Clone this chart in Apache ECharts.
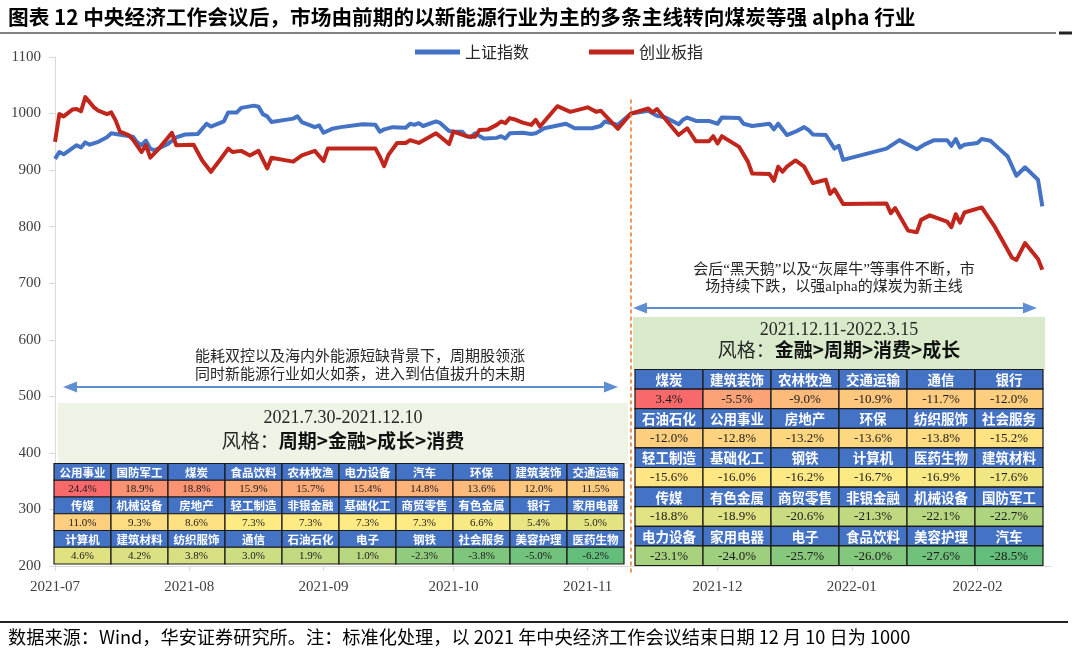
<!DOCTYPE html>
<html><head><meta charset="utf-8">
<script src="https://cdn.jsdelivr.net/npm/echarts/dist/echarts.min.js"></script>
<style>html,body{margin:0;padding:0;background:#fff}#c{width:1080px;height:652px}</style>
</head><body><div id="c"></div>
<script>
// ---------------- data ----------------
const shDates = ['2021-07-30','2021-07-31','2021-08-01','2021-08-04','2021-08-05','2021-08-06','2021-08-07','2021-08-09','2021-08-11','2021-08-12','2021-08-13','2021-08-17','2021-08-18','2021-08-19','2021-08-20','2021-08-21','2021-08-22','2021-08-25','2021-08-27','2021-08-29','2021-09-01','2021-09-03','2021-09-04','2021-09-07','2021-09-08','2021-09-10','2021-09-11','2021-09-14','2021-09-15','2021-09-16','2021-09-17','2021-09-18','2021-09-23','2021-09-24','2021-09-25','2021-09-28','2021-09-29','2021-09-30','2021-10-02','2021-10-04','2021-10-09','2021-10-12','2021-10-13','2021-10-14','2021-10-16','2021-10-19','2021-10-20','2021-10-21','2021-10-22','2021-10-23','2021-10-26','2021-10-27','2021-10-29','2021-10-30','2021-11-01','2021-11-02','2021-11-03','2021-11-04','2021-11-06','2021-11-09','2021-11-10','2021-11-11','2021-11-12','2021-11-15','2021-11-17','2021-11-18','2021-11-20','2021-11-25','2021-11-27','2021-12-01','2021-12-03','2021-12-04','2021-12-07','2021-12-10','2021-12-14','2021-12-16','2021-12-18','2021-12-21','2021-12-22','2021-12-23','2021-12-25','2021-12-28','2021-12-30','2021-12-31','2022-01-04','2022-01-05','2022-01-07','2022-01-11','2022-01-12','2022-01-13','2022-01-15','2022-01-17','2022-01-19','2022-01-20','2022-01-21','2022-01-24','2022-01-26','2022-01-27','2022-01-28','2022-02-07','2022-02-10','2022-02-14','2022-02-16','2022-02-18','2022-02-21','2022-02-22','2022-02-23','2022-02-24','2022-02-25','2022-02-28','2022-03-01','2022-03-03','2022-03-05','2022-03-07','2022-03-09','2022-03-11','2022-03-14','2022-03-15'];
const shValues = [920,932,928,944,940,949,945,950,958,965,964,959,949,944,952,938,935,946,958,963,964,982,977,986,1002,1002,1010,1014,1012,999,995,985,991,995,985,976,979,966,973,976,981,980,968,972,976,975,982,980,983,978,986,983,969,968,968,960,958,965,956,957,960,956,965,966,964,965,974,982,974,974,978,986,980,1000,1005,996,993,981,989,993,987,987,982,993,992,982,978,982,972,982,962,968,976,971,963,962,938,943,918,938,953,937,946,953,953,943,955,940,945,948,955,952,938,924,890,905,883,836];

const cybDates = ['2021-07-30','2021-07-31','2021-08-01','2021-08-03','2021-08-04','2021-08-05','2021-08-06','2021-08-08','2021-08-09','2021-08-11','2021-08-12','2021-08-13','2021-08-14','2021-08-16','2021-08-17','2021-08-19','2021-08-20','2021-08-21','2021-08-23','2021-08-26','2021-08-27','2021-08-31','2021-09-02','2021-09-04','2021-09-06','2021-09-08','2021-09-09','2021-09-11','2021-09-13','2021-09-15','2021-09-17','2021-09-18','2021-09-23','2021-09-25','2021-09-28','2021-09-30','2021-10-01','2021-10-12','2021-10-13','2021-10-14','2021-10-15','2021-10-17','2021-10-19','2021-10-20','2021-10-22','2021-10-26','2021-10-27','2021-10-29','2021-10-30','2021-11-02','2021-11-04','2021-11-05','2021-11-07','2021-11-09','2021-11-10','2021-11-11','2021-11-12','2021-11-13','2021-11-15','2021-11-17','2021-11-18','2021-11-19','2021-11-23','2021-11-26','2021-11-30','2021-12-02','2021-12-03','2021-12-07','2021-12-10','2021-12-14','2021-12-15','2021-12-16','2021-12-21','2021-12-23','2021-12-25','2021-12-28','2021-12-29','2021-12-30','2021-12-31','2022-01-04','2022-01-06','2022-01-07','2022-01-11','2022-01-12','2022-01-13','2022-01-14','2022-01-15','2022-01-17','2022-01-19','2022-01-21','2022-01-24','2022-01-25','2022-01-26','2022-01-28','2022-02-07','2022-02-08','2022-02-09','2022-02-12','2022-02-14','2022-02-15','2022-02-17','2022-02-21','2022-02-22','2022-02-23','2022-02-24','2022-02-25','2022-03-01','2022-03-04','2022-03-08','2022-03-09','2022-03-11','2022-03-14','2022-03-15'];
const cybValues = [950,999,995,1007,1008,1004,1029,1011,1005,999,1002,988,968,962,954,932,944,922,938,966,944,945,917,897,917,938,932,934,926,934,903,922,915,926,934,916,938,938,924,907,927,948,948,953,948,965,959,946,968,960,959,971,972,980,986,983,992,990,984,980,989,977,1013,1003,1011,1003,1005,973,1000,1009,1002,1008,962,974,951,951,960,947,960,941,915,894,893,881,906,897,906,917,906,877,883,858,866,840,841,824,833,793,790,812,820,809,799,822,807,825,834,800,745,741,771,743,724];

const seriesNames = ['上证指数', '创业板指'];
const tickDates = ['2021-07-30','2021-08-30','2021-09-30','2021-10-30','2021-11-30','2021-12-30','2022-01-30','2022-02-28'];
const axisStart = '2021-07-30', axisEnd = '2022-03-17';
const meetingDate = '2021-12-10';

const leftIndustries = ['公用事业','国防军工','煤炭','食品饮料','农林牧渔','电力设备','汽车','环保','建筑装饰','交通运输','传媒','机械设备','房地产','轻工制造','非银金融','基础化工','商贸零售','有色金属','银行','家用电器','计算机','建筑材料','纺织服饰','通信','石油石化','电子','钢铁','社会服务','美容护理','医药生物'];
const leftReturns = [24.4,18.9,18.8,15.9,15.7,15.4,14.8,13.6,12.0,11.5,11.0,9.3,8.6,7.3,7.3,7.3,7.3,6.6,5.4,5.0,4.6,4.2,3.8,3.0,1.9,1.0,-2.3,-3.8,-5.0,-6.2];
const rightIndustries = ['煤炭','建筑装饰','农林牧渔','交通运输','通信','银行','石油石化','公用事业','房地产','环保','纺织服饰','社会服务','轻工制造','基础化工','钢铁','计算机','医药生物','建筑材料','传媒','有色金属','商贸零售','非银金融','机械设备','国防军工','电力设备','家用电器','电子','食品饮料','美容护理','汽车'];
const rightReturns = [3.4,-5.5,-9.0,-10.9,-11.7,-12.0,-12.0,-12.8,-13.2,-13.6,-13.8,-15.2,-15.6,-16.0,-16.2,-16.7,-16.9,-17.6,-18.8,-18.9,-20.6,-21.3,-22.1,-22.7,-23.1,-24.0,-25.7,-26.0,-27.6,-28.5];

const titleText = '图表 12 中央经济工作会议后，市场由前期的以新能源行业为主的多条主线转向煤炭等强 alpha 行业';
const footText = '数据来源：Wind，华安证券研究所。注：标准化处理，以 2021 年中央经济工作会议结束日期 12 月 10 日为 1000';
const leftNote = ['能耗双控以及海内外能源短缺背景下，周期股领涨', '同时新能源行业如火如荼，进入到估值拔升的末期'];
const rightNote = ['会后“黑天鹅”以及“灰犀牛”等事件不断，市', '场持续下跌，以强alpha的煤炭为新主线'];
const leftPeriod = '2021.7.30-2021.12.10', leftStyle = '周期>金融>成长>消费';
const rightPeriod = '2021.12.11-2022.3.15', rightStyle = '金融>周期>消费>成长';

// ---------------- build ----------------
const SANS = "'Noto Sans CJK SC', sans-serif";
const SERIF = "'Liberation Serif', 'Noto Sans CJK SC', serif";
function fmt(t){const d=new Date(t);return d.getUTCFullYear()+'-'+String(d.getUTCMonth()+1).padStart(2,'0')+'-'+String(d.getUTCDate()).padStart(2,'0');}
const cats=[];
for(let t=Date.parse(axisStart+'T00:00:00Z'); t<=Date.parse(axisEnd+'T00:00:00Z'); t+=86400000) cats.push(fmt(t));
const idx={}; cats.forEach((c,i)=>idx[c]=i);
function align(dates, vals){const a=cats.map(()=>null); dates.forEach((d,i)=>{a[idx[d]]=vals[i];}); return a;}

function hex(c){return [parseInt(c.substr(1,2),16),parseInt(c.substr(3,2),16),parseInt(c.substr(5,2),16)];}
function mix(a,b,t){const A=hex(a),B=hex(b);return 'rgb('+A.map((v,i)=>Math.round(v+(B[i]-v)*t)).join(',')+')';}
function scaleColor(v, arr){
  const s=[...arr].sort((a,b)=>a-b); const n=s.length;
  const mid = n%2 ? s[(n-1)/2] : (s[n/2-1]+s[n/2])/2;
  const mn=s[0], mx=s[n-1];
  if(v>=mid) return mix('#FFEB84','#F8696B', mx===mid?0:(v-mid)/(mx-mid));
  return mix('#FFEB84','#63BE7B', (mid-v)/(mid-mn));
}
function txt(x,y,text,o){
  return {type:'text', x:x, y:y, z:10, silent:true, style:Object.assign({text:text, fill:'#262626', fontSize:14, fontFamily:SANS,
    align:'center', verticalAlign:'middle', textAlign:'center', textVerticalAlign:'middle'}, o||{})};
}
function table(x0,y0,cw,rh,cols,names,vals,hSize,vSize){
  const els=[]; const rows=names.length/cols;
  for(let r=0;r<rows;r++) for(let c=0;c<cols;c++){
    const i=r*cols+c, x=x0+c*cw, yh=y0+2*r*rh, yv=yh+rh;
    els.push({type:'rect', z:5, shape:{x:x,y:yh,width:cw,height:rh}, style:{fill:'#4472C4', stroke:'#1a1a1a', lineWidth:1.2}});
    els.push({type:'rect', z:5, shape:{x:x,y:yv,width:cw,height:rh}, style:{fill:scaleColor(vals[i],vals), stroke:'#1a1a1a', lineWidth:1.2}});
    els.push(txt(x+cw/2, yh+rh/2+0.5, names[i], {fill:'#fff', fontSize:hSize, fontWeight:'bold'}));
    els.push(txt(x+cw/2, yv+rh/2+0.5, vals[i].toFixed(1)+'%', {fill:'#1a1a1a', fontSize:vSize, fontFamily:SERIF}));
  }
  return els;
}
function arrow(x1,x2,y,color){
  return [
    {type:'line', z:6, shape:{x1:x1+8,y1:y,x2:x2-8,y2:y}, style:{stroke:color,lineWidth:2}},
    {type:'polygon', z:6, shape:{points:[[x1,y],[x1+14,y-5.5],[x1+14,y+5.5]]}, style:{fill:color}},
    {type:'polygon', z:6, shape:{points:[[x2,y],[x2-14,y-5.5],[x2-14,y+5.5]]}, style:{fill:color}}
  ];
}

const graphics = [].concat(
  [txt(8,17,titleText,{align:'left',textAlign:'left',fontSize:20.7,fontWeight:'bold',fill:'#000'})],
  [{type:'line', shape:{x1:0,y1:33,x2:1056,y2:33}, style:{stroke:'#595959',lineWidth:1.6}},
   {type:'line', shape:{x1:1059,y1:33,x2:1072,y2:33}, style:{stroke:'#222',lineWidth:3}},
   {type:'line', shape:{x1:0,y1:622,x2:1068,y2:622}, style:{stroke:'#222',lineWidth:2}}],
  [txt(8,637,footText,{align:'left',textAlign:'left',fontSize:18.2,fill:'#000'})],
  // left annotation
  [txt(360,357,leftNote[0],{fontSize:15,fontFamily:SERIF}), txt(360,375,leftNote[1],{fontSize:15,fontFamily:SERIF})],
  arrow(63,618,387,'#5E8FD3'),
  [{type:'rect', z:1, shape:{x:58,y:403,width:570,height:61}, style:{fill:'#EDF3E5'}},
   txt(343,418,leftPeriod,{fontSize:18,fontFamily:SERIF}),
   txt(343,441,'{n|风格：}{b|'+leftStyle+'}',{fontSize:19, rich:{n:{fontSize:19,fontFamily:SANS,fill:'#262626'}, b:{fontSize:19,fontFamily:SANS,fontWeight:'bold',fill:'#111'}}})],
  table(54,463.5,57,16.75,10,leftIndustries,leftReturns,11.5,11),
  // right annotation
  [txt(834,270,rightNote[0],{fontSize:15,fontFamily:SERIF}), txt(834,287,rightNote[1],{fontSize:15,fontFamily:SERIF})],
  arrow(633,1037,308,'#5E8FD3'),
  [{type:'rect', z:1, shape:{x:633,y:317,width:412,height:53}, style:{fill:'#D9EACB'}},
   txt(839,330,rightPeriod,{fontSize:18,fontFamily:SERIF}),
   txt(839,350,'{n|风格：}{b|'+rightStyle+'}',{fontSize:19, rich:{n:{fontSize:19,fontFamily:SANS,fill:'#262626'}, b:{fontSize:19,fontFamily:SANS,fontWeight:'bold',fill:'#111'}}})],
  table(635,369.5,68,19.6,6,rightIndustries,rightReturns,13.5,13)
);

const chart = echarts.init(document.getElementById('c'), null, {renderer:'canvas'});
chart.setOption({
  animation:false,
  backgroundColor:'#fff',
  grid:{left:55, right:29, top:57, bottom:86, containLabel:false},
  legend:{data:seriesNames, left:410, top:39, icon:'rect', itemWidth:45, itemHeight:5, itemGap:60,
    textStyle:{fontSize:16, fontFamily:SANS, color:'#262626'}},
  xAxis:{type:'category', data:cats, boundaryGap:false,
    axisLine:{lineStyle:{color:'#d9d9d9'}},
    axisTick:{show:true, interval:(i,v)=>tickDates.includes(v), length:5, lineStyle:{color:'#d9d9d9'}},
    axisLabel:{interval:(i,v)=>tickDates.includes(v), formatter:v=>v.slice(0,7), margin:14, fontSize:15, fontFamily:SERIF, color:'#404040'},
    splitLine:{show:false}},
  yAxis:{type:'value', min:200, max:1100, interval:100,
    axisLine:{show:true, lineStyle:{color:'#d9d9d9'}},
    axisTick:{show:true, length:6, lineStyle:{color:'#d9d9d9'}},
    axisLabel:{margin:14, fontSize:15, fontFamily:SERIF, color:'#404040', formatter:v=>String(v)},
    splitLine:{show:false}},
  series:[
    {name:seriesNames[0], type:'line', data:align(shDates,shValues), connectNulls:true, showSymbol:false, symbol:'none',
      lineStyle:{width:4, color:'#4472C4', join:'round'}, itemStyle:{color:'#4472C4'}, z:3},
    {name:seriesNames[1], type:'line', data:align(cybDates,cybValues), connectNulls:true, showSymbol:false, symbol:'none',
      lineStyle:{width:4, color:'#C0261B', join:'round'}, itemStyle:{color:'#C0261B'}, z:4},
    {name:'meeting', type:'line', data:[[meetingDate,1025],[meetingDate,185]], showSymbol:false, symbol:'none', silent:true,
      clip:false, z:8, lineStyle:{type:[4,3], color:'#ED7D31', width:1.6}, itemStyle:{color:'#ED7D31'}, tooltip:{show:false}}
  ],
  graphic:{elements:graphics}
});
</script></body></html>
